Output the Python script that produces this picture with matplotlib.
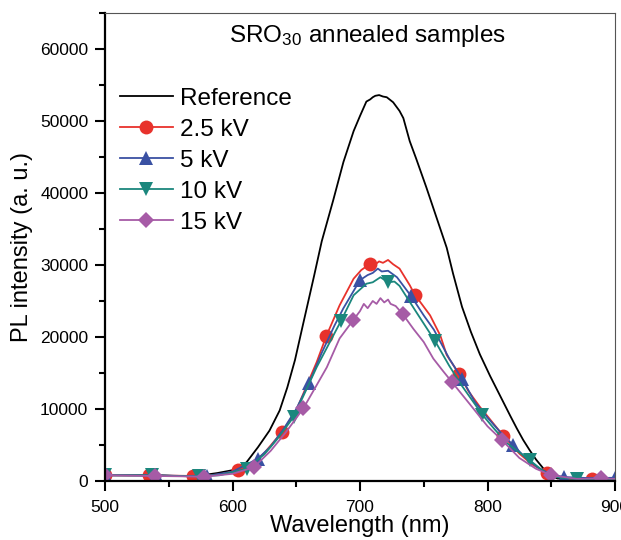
import numpy as np
import matplotlib
matplotlib.use("Agg")
import matplotlib.pyplot as plt
from matplotlib.ticker import MultipleLocator

# reference sample (no markers)
wl_ref = [500, 540, 570, 588, 600, 611, 620, 629, 637, 643, 649, 655, 664, 670,
          676, 679, 687, 695, 700, 705, 708, 710, 712, 715, 718, 721, 726, 731,
          734, 739, 744, 752, 760, 768, 773, 780, 787, 794, 802, 808, 812, 818,
          823, 828, 833, 838, 844, 849, 855, 870, 900]
pl_ref = [800, 750, 650, 1100, 1500, 2600, 4700, 7000, 9800, 13000, 16800, 21500,
          28500, 33300, 37100, 39000, 44300, 48600, 50700, 52700, 53000, 53300,
          53500, 53600, 53400, 53300, 52600, 51400, 50400, 47200, 44800, 40800,
          36600, 32400, 28800, 24200, 20700, 17600, 14600, 12500, 11100, 9000,
          7300, 5700, 4300, 3000, 1700, 800, 350, 300, 300]

# 2.5 kV
wl_25 = [500, 520, 534.7, 550, 569.4, 590, 604.1, 615, 625, 638.8, 650, 660, 666,
         673.5, 684, 695, 701, 708.2, 712, 715, 718, 722, 726, 731, 739, 742.9,
         755, 763, 768, 777.6, 785, 794, 800, 812.3, 825, 835, 847, 860, 881.7, 900]
pl_25 = [800, 800, 850, 750, 700, 900, 1500, 2300, 3900, 6800, 9800, 14000, 16500,
         20100, 24400, 28100, 29300, 30200, 30100, 30500, 30300, 30700, 30100,
         29500, 27200, 25900, 23000, 20200, 17500, 14900, 12500, 10300, 9000,
         6300, 3800, 2300, 1100, 350, 300, 250]
mk_25 = [500, 534.7, 569.4, 604.1, 638.8, 673.5, 708.2, 742.9, 777.6, 812.3, 847, 881.7]

# 5 kV
wl_5 = [500, 520, 540, 560, 580, 600, 620, 630, 640, 650, 660, 670, 680, 687, 700,
        706, 710, 714, 717, 722, 729, 740, 750, 758, 770, 780, 790, 800, 810, 820,
        830, 840, 850, 860, 880, 900]
pl_5 = [800, 800, 800, 700, 700, 1300, 3100, 4800, 7200, 10000, 13600, 17800,
        21600, 24000, 27900, 28600, 28900, 29500, 29100, 29200, 28300, 25700,
        23000, 21000, 17000, 14200, 11000, 8800, 6800, 5000, 3200, 1800, 900, 550,
        400, 450]
mk_5 = [500, 540, 580, 620, 660, 700, 740, 780, 820, 860, 900]

# 10 kV
wl_10 = [500, 537, 555, 574, 590, 611, 625, 635, 648, 666, 685, 695, 705, 710, 716,
         722, 727, 731, 744, 759, 770, 780, 796, 805, 815, 833, 845, 855, 870, 900]
pl_10 = [800, 800, 700, 650, 800, 1700, 3700, 5800, 8900, 15800, 22200, 25800,
         27400, 27600, 28300, 27600, 27700, 27100, 23500, 19400, 16000, 13200,
         9200, 7300, 5300, 2900, 1200, 500, 250, 200]
mk_10 = [500, 537, 574, 611, 648, 685, 722, 759, 796, 833, 870]

# 15 kV
wl_15 = [500, 538.9, 560, 577.8, 600, 616.7, 630, 642, 655.6, 665, 674, 684, 694.5,
         700, 703, 706, 710, 713, 716, 719, 722, 724, 728, 733.4, 742, 750, 757.5,
         765, 772.3, 786, 800, 811.2, 825, 838, 850.1, 870, 889, 900]
pl_15 = [800, 700, 650, 600, 1000, 1900, 4200, 6800, 10100, 13000, 15800, 19800,
         22300, 23600, 24600, 24000, 25000, 24600, 25400, 24800, 25200, 24600,
         24300, 23200, 21100, 19300, 17000, 15300, 13700, 10700, 7600, 5700, 3200,
         1700, 800, 300, 350, 300]
mk_15 = [500, 538.9, 577.8, 616.7, 655.6, 694.5, 733.4, 772.3, 811.2, 850.1, 889]

plt.rcParams['font.family'] = ['Liberation Sans', 'DejaVu Sans']
plt.rcParams['mathtext.default'] = 'regular'

fig = plt.figure(figsize=(6.21, 5.4), dpi=100)
ax = fig.add_axes([105 / 621, 1 - 481 / 540, 510 / 621, 468 / 540])

ax.plot(wl_ref, pl_ref, color='black', lw=1.3, label='Reference')

series = [
    (wl_25, pl_25, mk_25, '#E8322C', 'o', 10, '2.5 kV'),
    (wl_5, pl_5, mk_5, '#3A51A3', '^', 10.5, '5 kV'),
    (wl_10, pl_10, mk_10, '#1B877D', 'v', 10.5, '10 kV'),
    (wl_15, pl_15, mk_15, '#A65BA6', 'D', 8.5, '15 kV'),
]
for wl, pl, mk, c, m, ms, lab in series:
    idx = [wl.index(w) for w in mk]
    ax.plot(wl, pl, color=c, lw=1.3, marker=m, ms=ms, markevery=idx,
            markeredgewidth=0, label=lab)

ax.set_xlim(500, 900)
ax.set_ylim(0, 65000)
ax.xaxis.set_major_locator(MultipleLocator(100))
ax.xaxis.set_minor_locator(MultipleLocator(50))
ax.yaxis.set_major_locator(MultipleLocator(10000))
ax.yaxis.set_minor_locator(MultipleLocator(5000))
ax.tick_params(which='both', direction='out', top=False, right=False,
               labelsize=12.5, width=1.5)
ax.tick_params(which='major', length=7)
ax.tick_params(which='minor', length=4)
ax.tick_params(axis='x', which='major', pad=7)
ax.tick_params(axis='y', which='major', pad=5)

for s in ['left', 'bottom']:
    ax.spines[s].set_linewidth(1.6)
for s in ['top', 'right']:
    ax.spines[s].set_linewidth(0.8)
    ax.spines[s].set_color('#555555')

ax.set_xlabel('Wavelength (nm)', fontsize=17, labelpad=0)
ax.set_ylabel('PL intensity (a. u.)', fontsize=17, labelpad=5)

ax.text(0.515, 0.95, r'SRO$_{30}$ annealed samples', transform=ax.transAxes,
        ha='center', va='center', fontsize=17.5)

ax.legend(loc='upper left', bbox_to_anchor=(0.0, 0.872), frameon=False,
          fontsize=17.5, handlelength=2.2, handletextpad=0.3, labelspacing=0.37,
          borderaxespad=0.2)

fig.savefig('out.png', dpi=100)
